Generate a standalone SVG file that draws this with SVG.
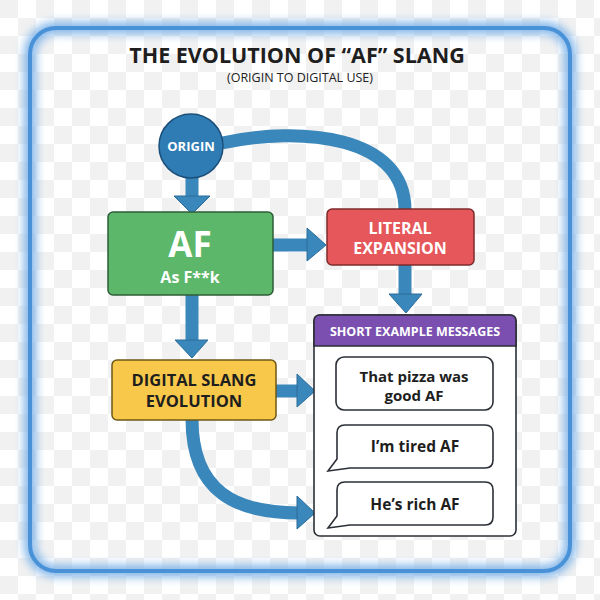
<svg xmlns="http://www.w3.org/2000/svg" width="600" height="600" viewBox="0 0 600 600">
<defs>
<pattern id="chk" width="36" height="36" patternUnits="userSpaceOnUse">
<rect width="36" height="36" fill="#ffffff"/>
<rect width="18" height="18" fill="#f1f1f1"/>
<rect x="18" y="18" width="18" height="18" fill="#f1f1f1"/>
</pattern>
<filter id="glow" x="-10%" y="-10%" width="120%" height="120%"><feGaussianBlur stdDeviation="5"/></filter>
<style>
.t{font-family:"Open Sans","Liberation Sans",sans-serif;font-weight:bold;text-anchor:middle}
.w{fill:#ffffff}
.d{fill:#1e1e1e}
.con{fill:none;stroke:#3a87bb;stroke-width:13}
.head{fill:#3a87bb;stroke:#2a6c99;stroke-width:1}
.bub{fill:#ffffff;stroke:#2b2f36;stroke-width:1.6}
</style>
</defs>
<rect width="600" height="600" fill="url(#chk)"/>
<g id="frame">
<rect x="30" y="28" width="540" height="543" rx="26" fill="none" stroke="#7fb4e8" stroke-width="12" filter="url(#glow)"/>
<rect x="30" y="28" width="540" height="543" rx="26" fill="none" stroke="#4a92d8" stroke-width="4"/>
</g>
<g id="title">
<text class="t d" x="297" y="63" font-size="21.5">THE EVOLUTION OF “AF” SLANG</text>
<text x="300" y="82" font-family="Open Sans, Liberation Sans, sans-serif" font-size="12.5" text-anchor="middle" fill="#222">(ORIGIN TO DIGITAL USE)</text>
</g>
<g id="connectors">
<path class="con" d="M222 143 C300 126 405 135 405 210"/>
<path class="con" d="M192 178 V200"/>
<polygon class="head" points="174,196 210,196 192,214"/>
<path class="con" d="M273 245 H308"/>
<polygon class="head" points="307,228 307,261 326,245"/>
<path class="con" d="M405 264 V296"/>
<polygon class="head" points="389,294 422,294 406,313"/>
<path class="con" d="M192 294 V342"/>
<polygon class="head" points="175,340 208,340 192,358"/>
<path class="con" d="M276 391 H299"/>
<polygon class="head" points="297,374 297,407 315,391"/>
<path class="con" d="M192 419 C192 492 236 513 299 513"/>
<polygon class="head" points="297,496 297,529 315,513"/>
</g>
<g id="origin">
<circle cx="191" cy="146" r="32" fill="#2f7cb5" stroke="#1b4f7a" stroke-width="1.5"/>
<text class="t w" x="191" y="151" font-size="13">ORIGIN</text>
</g>
<g id="af">
<rect x="108" y="212" width="165" height="83" rx="5" fill="#5cb76a" stroke="#2e5e38" stroke-width="1.5"/>
<text class="t w" x="190" y="257" font-size="35">AF</text>
<text class="t w" x="190" y="283" font-size="16">As F**k</text>
</g>
<g id="literal">
<rect x="327" y="209" width="147" height="56" rx="5" fill="#e5575a" stroke="#7e2b2d" stroke-width="1.5"/>
<text class="t w" x="400" y="234" font-size="16">LITERAL</text>
<text class="t w" x="400" y="254" font-size="16">EXPANSION</text>
</g>
<g id="digital">
<rect x="112" y="360" width="164" height="60" rx="5" fill="#f7c84a" stroke="#6e5818" stroke-width="1.5"/>
<text class="t d" x="194" y="386" font-size="16.5">DIGITAL SLANG</text>
<text class="t d" x="194" y="407" font-size="16.5">EVOLUTION</text>
</g>
<g id="examples">
<rect x="314" y="315" width="202" height="221" rx="6" fill="#ffffff" stroke="#2b2f36" stroke-width="1.6"/>
<path d="M314 346 V321 Q314 315 320 315 H510 Q516 315 516 321 V346 Z" fill="#7a4fb0" stroke="#2b2f36" stroke-width="1.6"/>
<text class="t w" x="415" y="336" font-size="12.5">SHORT EXAMPLE MESSAGES</text>
<g id="msg1">
<rect class="bub" x="336" y="357" width="157" height="53" rx="8"/>
<text class="t d" x="414" y="382" font-size="15">That pizza was</text>
<text class="t d" x="414" y="401" font-size="15">good AF</text>
</g>
<g id="msg2">
<path class="bub" d="M345 425 H485 Q493 425 493 433 V460 Q493 468 485 468 H350 L328 471 L337 459 V433 Q337 425 345 425 Z"/>
<text class="t d" x="415" y="452" font-size="15.5">I’m tired AF</text>
</g>
<g id="msg3">
<path class="bub" d="M345 482 H485 Q493 482 493 490 V517 Q493 525 485 525 H350 L328 528 L337 516 V490 Q337 482 345 482 Z"/>
<text class="t d" x="415" y="510" font-size="15.5">He’s rich AF</text>
</g>
</g>
</svg>
